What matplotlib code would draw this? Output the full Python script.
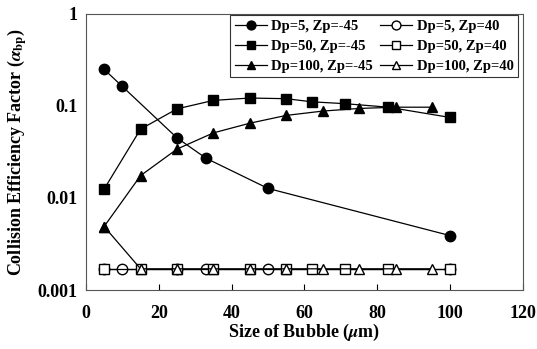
import matplotlib
matplotlib.use("Agg")
import matplotlib.pyplot as plt

plt.rcParams["font.family"] = ["Liberation Serif", "DejaVu Serif"]
plt.rcParams["font.weight"] = "bold"
plt.rcParams["mathtext.fontset"] = "stix"

# ── DATA ─────────────────────────────────────────────────────────────────────
x_dp5 = [5, 10, 25, 33, 50, 100]
y_dp5_neg = [0.25, 0.163, 0.045, 0.027, 0.0127, 0.0039]
y_dp5_pos = [0.0017, 0.0017, 0.0017, 0.0017, 0.0017, 0.0017]

x_dp50 = [5, 15, 25, 35, 45, 55, 62, 71, 83, 100]
y_dp50_neg = [0.0125, 0.056, 0.093, 0.115, 0.122, 0.120, 0.111, 0.106, 0.097, 0.075]
y_dp50_pos = [0.0017] * 10

x_dp100 = [5, 15, 25, 35, 45, 55, 65, 75, 85, 95]
y_dp100_neg = [0.0049, 0.0175, 0.034, 0.051, 0.065, 0.079, 0.088, 0.094, 0.097, 0.097]
y_dp100_pos = [0.0049, 0.0017, 0.0017, 0.0017, 0.0017, 0.0017, 0.0017, 0.0017, 0.0017, 0.0017]

# ── PLOT ─────────────────────────────────────────────────────────────────────
fig = plt.figure(figsize=(5.37, 3.49), dpi=100)
ax = fig.add_axes([0.160, 0.169, 0.814, 0.791])

lw = 0.9
ms = 7.5
# filled series drawn on top of the open ones
ax.plot(x_dp5, y_dp5_neg, "k-o", lw=lw, ms=ms, zorder=4, label="Dp=5, Zp=-45")
ax.plot(x_dp50, y_dp50_neg, "k-s", lw=lw, ms=ms, zorder=4, label="Dp=50, Zp=-45")
ax.plot(x_dp100, y_dp100_neg, "k-^", lw=lw, ms=ms, zorder=4, label="Dp=100, Zp=-45")
ax.plot(x_dp5, y_dp5_pos, "k-o", lw=lw, ms=ms, mfc="white", zorder=2, label="Dp=5, Zp=40")
ax.plot(x_dp50, y_dp50_pos, "k-s", lw=lw, ms=ms, mfc="white", zorder=2, label="Dp=50, Zp=40")
ax.plot(x_dp100, y_dp100_pos, "k-^", lw=lw, ms=ms, mfc="white", zorder=2, label="Dp=100, Zp=40")

ax.set_yscale("log")
ax.set_xlim(0, 120)
ax.set_ylim(0.001, 1)
ax.set_xticks([0, 20, 40, 60, 80, 100, 120])
ax.set_yticks([0.001, 0.01, 0.1, 1])
ax.set_yticklabels(["0.001", "0.01", "0.1", "1"])
ax.minorticks_off()
ax.tick_params(axis="x", direction="in", length=4, labelsize=13, pad=11)
ax.tick_params(axis="y", length=0, labelsize=13, pad=6)
for lab in ax.get_xticklabels() + ax.get_yticklabels():
    lab.set_fontweight("bold")

for sp in ax.spines.values():
    sp.set_linestyle((0, (1, 1)))
    sp.set_color("#555555")
    sp.set_linewidth(0.8)

ax.set_xlabel(r"Size of Bubble ($\mu$m)", fontsize=13, fontweight="bold", labelpad=0)
ax.set_ylabel(r"Collision Efficiency Factor ($\alpha_{\rm bp}$)", fontsize=13,
              fontweight="bold", labelpad=6)

leg = ax.legend(ncol=2, loc="upper right", bbox_to_anchor=(0.995, 1.005),
                fontsize=10.5, frameon=True, fancybox=False, borderpad=0.3,
                handlelength=2.2, handletextpad=0.3, columnspacing=0.5,
                labelspacing=0.45, borderaxespad=0.2, markerscale=0.85)
leg.get_frame().set_edgecolor("black")
leg.get_frame().set_linewidth(0.8)
for t in leg.get_texts():
    t.set_fontweight("bold")

fig.savefig("out.png", dpi=100)
